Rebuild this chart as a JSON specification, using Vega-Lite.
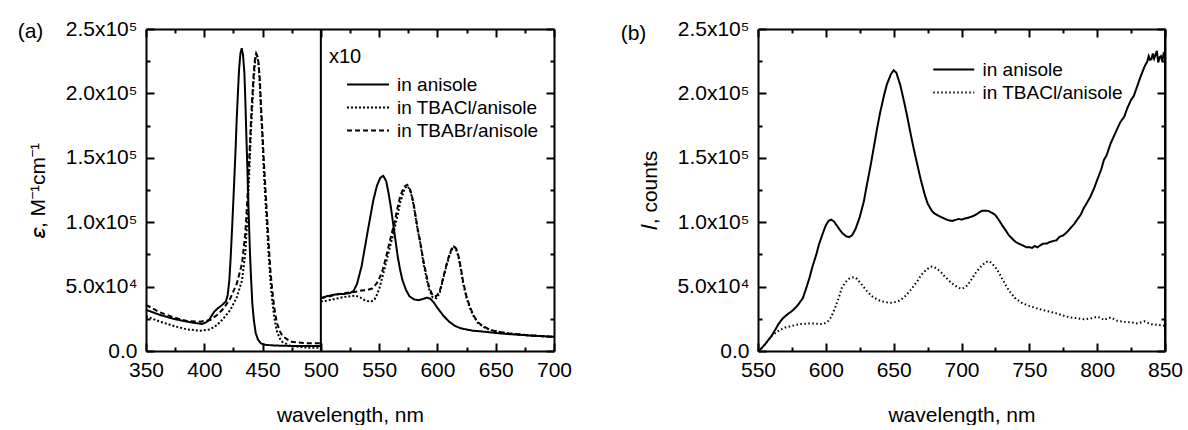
{
  "$schema": "https://vega.github.io/schema/vega-lite/v6.json",
  "background": "white",
  "padding": {"left": 17, "top": 18, "right": 0, "bottom": 0},
  "spacing": 48,
  "config": {
    "view": {"stroke": null},
    "font": "Liberation Sans",
    "axis": {
      "domainColor": "black", "domainWidth": 2, "tickColor": "black", "tickWidth": 2,
      "labelColor": "black", "titleColor": "black", "labelFont": "Liberation Sans", "titleFont": "Liberation Sans",
      "labelFontSize": 21, "titleFontSize": 21, "titleFontWeight": "normal", "grid": false,
      "labelOverlap": false, "labelFlush": false, "zindex": 1
    },
    "legend": {
      "labelFont": "Liberation Sans", "labelFontSize": 19, "labelColor": "black",
      "titleFont": "Liberation Sans", "titleFontSize": 20, "titleFontWeight": "normal", "titleColor": "black"
    }
  },
  "resolve": {
    "scale": {"x": "independent", "y": "independent", "strokeDash": "independent"},
    "legend": {"strokeDash": "independent"}
  },
  "datasets": {
    "abs": [
      {"series":"in anisole","part":"L","wl":350,"eps":32000},{"series":"in anisole","part":"L","wl":362,"eps":28000},{"series":"in anisole","part":"L","wl":374,"eps":24900},{"series":"in anisole","part":"L","wl":385,"eps":22800},{"series":"in anisole","part":"L","wl":394,"eps":21500},{"series":"in anisole","part":"L","wl":398,"eps":21000},{"series":"in anisole","part":"L","wl":401,"eps":22000},{"series":"in anisole","part":"L","wl":404,"eps":24000},{"series":"in anisole","part":"L","wl":408.5,"eps":30500},{"series":"in anisole","part":"L","wl":412,"eps":33500},{"series":"in anisole","part":"L","wl":415,"eps":35500},{"series":"in anisole","part":"L","wl":418.5,"eps":38500},{"series":"in anisole","part":"L","wl":420,"eps":43000},{"series":"in anisole","part":"L","wl":421.5,"eps":55000},{"series":"in anisole","part":"L","wl":422.6,"eps":72000},{"series":"in anisole","part":"L","wl":424,"eps":98000},{"series":"in anisole","part":"L","wl":425.5,"eps":128000},{"series":"in anisole","part":"L","wl":427,"eps":160000},{"series":"in anisole","part":"L","wl":427.8,"eps":180000},{"series":"in anisole","part":"L","wl":429,"eps":203000},{"series":"in anisole","part":"L","wl":429.8,"eps":218000},{"series":"in anisole","part":"L","wl":431,"eps":231000},{"series":"in anisole","part":"L","wl":432.1,"eps":235000},{"series":"in anisole","part":"L","wl":433.2,"eps":230000},{"series":"in anisole","part":"L","wl":434.4,"eps":216000},{"series":"in anisole","part":"L","wl":435.2,"eps":195000},{"series":"in anisole","part":"L","wl":436.1,"eps":167000},{"series":"in anisole","part":"L","wl":437,"eps":141000},{"series":"in anisole","part":"L","wl":437.8,"eps":115000},{"series":"in anisole","part":"L","wl":438.5,"eps":95000},{"series":"in anisole","part":"L","wl":439.2,"eps":76000},{"series":"in anisole","part":"L","wl":440.2,"eps":55000},{"series":"in anisole","part":"L","wl":441.2,"eps":37000},{"series":"in anisole","part":"L","wl":442.5,"eps":24000},{"series":"in anisole","part":"L","wl":444.1,"eps":14000},{"series":"in anisole","part":"L","wl":446,"eps":9000},{"series":"in anisole","part":"L","wl":448.4,"eps":6000},{"series":"in anisole","part":"L","wl":452,"eps":4800},{"series":"in anisole","part":"L","wl":460,"eps":4300},{"series":"in anisole","part":"L","wl":470,"eps":4000},{"series":"in anisole","part":"L","wl":480,"eps":3900},{"series":"in anisole","part":"L","wl":490,"eps":3800},{"series":"in anisole","part":"L","wl":500,"eps":3800},
      {"series":"in anisole","part":"R","wl":500,"eps":41000},{"series":"in anisole","part":"R","wl":505,"eps":42500},{"series":"in anisole","part":"R","wl":510,"eps":43500},{"series":"in anisole","part":"R","wl":515,"eps":44200},{"series":"in anisole","part":"R","wl":520,"eps":44300},{"series":"in anisole","part":"R","wl":525,"eps":45000},{"series":"in anisole","part":"R","wl":528,"eps":46500},{"series":"in anisole","part":"R","wl":531,"eps":52000},{"series":"in anisole","part":"R","wl":535,"eps":66000},{"series":"in anisole","part":"R","wl":540,"eps":92000},{"series":"in anisole","part":"R","wl":545,"eps":117000},{"series":"in anisole","part":"R","wl":548,"eps":128000},{"series":"in anisole","part":"R","wl":551,"eps":134500},{"series":"in anisole","part":"R","wl":553.5,"eps":136000},{"series":"in anisole","part":"R","wl":556,"eps":132000},{"series":"in anisole","part":"R","wl":558,"eps":123000},{"series":"in anisole","part":"R","wl":560,"eps":112000},{"series":"in anisole","part":"R","wl":562,"eps":99000},{"series":"in anisole","part":"R","wl":564,"eps":86000},{"series":"in anisole","part":"R","wl":566,"eps":73000},{"series":"in anisole","part":"R","wl":568,"eps":63000},{"series":"in anisole","part":"R","wl":570,"eps":55000},{"series":"in anisole","part":"R","wl":573,"eps":47500},{"series":"in anisole","part":"R","wl":576,"eps":42500},{"series":"in anisole","part":"R","wl":580,"eps":40000},{"series":"in anisole","part":"R","wl":584,"eps":39500},{"series":"in anisole","part":"R","wl":588,"eps":40500},{"series":"in anisole","part":"R","wl":591,"eps":41500},{"series":"in anisole","part":"R","wl":594,"eps":40500},{"series":"in anisole","part":"R","wl":597,"eps":37500},{"series":"in anisole","part":"R","wl":600,"eps":33500},{"series":"in anisole","part":"R","wl":605,"eps":27500},{"series":"in anisole","part":"R","wl":610,"eps":22800},{"series":"in anisole","part":"R","wl":615,"eps":19500},{"series":"in anisole","part":"R","wl":620,"eps":17600},{"series":"in anisole","part":"R","wl":630,"eps":15800},{"series":"in anisole","part":"R","wl":640,"eps":15000},{"series":"in anisole","part":"R","wl":650,"eps":14000},{"series":"in anisole","part":"R","wl":660,"eps":13200},{"series":"in anisole","part":"R","wl":680,"eps":12000},{"series":"in anisole","part":"R","wl":700,"eps":11000},
      {"series":"in TBACl/anisole","part":"L","wl":350,"eps":27000},{"series":"in TBACl/anisole","part":"L","wl":362,"eps":22800},{"series":"in TBACl/anisole","part":"L","wl":374,"eps":19400},{"series":"in TBACl/anisole","part":"L","wl":385,"eps":16800},{"series":"in TBACl/anisole","part":"L","wl":396.6,"eps":15800},{"series":"in TBACl/anisole","part":"L","wl":405,"eps":16800},{"series":"in TBACl/anisole","part":"L","wl":411,"eps":20200},{"series":"in TBACl/anisole","part":"L","wl":416.6,"eps":25400},{"series":"in TBACl/anisole","part":"L","wl":422.4,"eps":31900},{"series":"in TBACl/anisole","part":"L","wl":428,"eps":42000},{"series":"in TBACl/anisole","part":"L","wl":432.4,"eps":55000},{"series":"in TBACl/anisole","part":"L","wl":435.2,"eps":76000},{"series":"in TBACl/anisole","part":"L","wl":436.8,"eps":100000},{"series":"in TBACl/anisole","part":"L","wl":438.1,"eps":128000},{"series":"in TBACl/anisole","part":"L","wl":439.2,"eps":152000},{"series":"in TBACl/anisole","part":"L","wl":440.1,"eps":172000},{"series":"in TBACl/anisole","part":"L","wl":441.3,"eps":192000},{"series":"in TBACl/anisole","part":"L","wl":442.4,"eps":210000},{"series":"in TBACl/anisole","part":"L","wl":443.5,"eps":224000},{"series":"in TBACl/anisole","part":"L","wl":444.7,"eps":231000},{"series":"in TBACl/anisole","part":"L","wl":445.7,"eps":228000},{"series":"in TBACl/anisole","part":"L","wl":446.7,"eps":221000},{"series":"in TBACl/anisole","part":"L","wl":447.7,"eps":205000},{"series":"in TBACl/anisole","part":"L","wl":448.7,"eps":185000},{"series":"in TBACl/anisole","part":"L","wl":450,"eps":162000},{"series":"in TBACl/anisole","part":"L","wl":451,"eps":141000},{"series":"in TBACl/anisole","part":"L","wl":452.4,"eps":118000},{"series":"in TBACl/anisole","part":"L","wl":453.8,"eps":97000},{"series":"in TBACl/anisole","part":"L","wl":455.2,"eps":75000},{"series":"in TBACl/anisole","part":"L","wl":456.7,"eps":55000},{"series":"in TBACl/anisole","part":"L","wl":458.2,"eps":40000},{"series":"in TBACl/anisole","part":"L","wl":459.6,"eps":29000},{"series":"in TBACl/anisole","part":"L","wl":461,"eps":21000},{"series":"in TBACl/anisole","part":"L","wl":462.4,"eps":15000},{"series":"in TBACl/anisole","part":"L","wl":465,"eps":9500},{"series":"in TBACl/anisole","part":"L","wl":467,"eps":7000},{"series":"in TBACl/anisole","part":"L","wl":474,"eps":3900},{"series":"in TBACl/anisole","part":"L","wl":488,"eps":2600},{"series":"in TBACl/anisole","part":"L","wl":500,"eps":2600},
      {"series":"in TBACl/anisole","part":"R","wl":500,"eps":38400},{"series":"in TBACl/anisole","part":"R","wl":505,"eps":39000},{"series":"in TBACl/anisole","part":"R","wl":510,"eps":40000},{"series":"in TBACl/anisole","part":"R","wl":515,"eps":41000},{"series":"in TBACl/anisole","part":"R","wl":520,"eps":42000},{"series":"in TBACl/anisole","part":"R","wl":525,"eps":42500},{"series":"in TBACl/anisole","part":"R","wl":530,"eps":43000},{"series":"in TBACl/anisole","part":"R","wl":534,"eps":41500},{"series":"in TBACl/anisole","part":"R","wl":537,"eps":39700},{"series":"in TBACl/anisole","part":"R","wl":540,"eps":38800},{"series":"in TBACl/anisole","part":"R","wl":543,"eps":38400},{"series":"in TBACl/anisole","part":"R","wl":546,"eps":40000},{"series":"in TBACl/anisole","part":"R","wl":548,"eps":43500},{"series":"in TBACl/anisole","part":"R","wl":550,"eps":48000},{"series":"in TBACl/anisole","part":"R","wl":553,"eps":58000},{"series":"in TBACl/anisole","part":"R","wl":556,"eps":69000},{"series":"in TBACl/anisole","part":"R","wl":558,"eps":76000},{"series":"in TBACl/anisole","part":"R","wl":561,"eps":87000},{"series":"in TBACl/anisole","part":"R","wl":563,"eps":94000},{"series":"in TBACl/anisole","part":"R","wl":566,"eps":106000},{"series":"in TBACl/anisole","part":"R","wl":568,"eps":115000},{"series":"in TBACl/anisole","part":"R","wl":570,"eps":121000},{"series":"in TBACl/anisole","part":"R","wl":572,"eps":126500},{"series":"in TBACl/anisole","part":"R","wl":574,"eps":128000},{"series":"in TBACl/anisole","part":"R","wl":576,"eps":126000},{"series":"in TBACl/anisole","part":"R","wl":578,"eps":120000},{"series":"in TBACl/anisole","part":"R","wl":580,"eps":111000},{"series":"in TBACl/anisole","part":"R","wl":583,"eps":94000},{"series":"in TBACl/anisole","part":"R","wl":585,"eps":85000},{"series":"in TBACl/anisole","part":"R","wl":588,"eps":68000},{"series":"in TBACl/anisole","part":"R","wl":591,"eps":55000},{"series":"in TBACl/anisole","part":"R","wl":593,"eps":47400},{"series":"in TBACl/anisole","part":"R","wl":596,"eps":41500},{"series":"in TBACl/anisole","part":"R","wl":599,"eps":41000},{"series":"in TBACl/anisole","part":"R","wl":602,"eps":45000},{"series":"in TBACl/anisole","part":"R","wl":605,"eps":56500},{"series":"in TBACl/anisole","part":"R","wl":608,"eps":67000},{"series":"in TBACl/anisole","part":"R","wl":610,"eps":73000},{"series":"in TBACl/anisole","part":"R","wl":612,"eps":78000},{"series":"in TBACl/anisole","part":"R","wl":614,"eps":81000},{"series":"in TBACl/anisole","part":"R","wl":616,"eps":79000},{"series":"in TBACl/anisole","part":"R","wl":618,"eps":73000},{"series":"in TBACl/anisole","part":"R","wl":620,"eps":64000},{"series":"in TBACl/anisole","part":"R","wl":622,"eps":52600},{"series":"in TBACl/anisole","part":"R","wl":625,"eps":41000},{"series":"in TBACl/anisole","part":"R","wl":628,"eps":33000},{"series":"in TBACl/anisole","part":"R","wl":631,"eps":27000},{"series":"in TBACl/anisole","part":"R","wl":635,"eps":21500},{"series":"in TBACl/anisole","part":"R","wl":640,"eps":18500},{"series":"in TBACl/anisole","part":"R","wl":645,"eps":16300},{"series":"in TBACl/anisole","part":"R","wl":650,"eps":15300},{"series":"in TBACl/anisole","part":"R","wl":660,"eps":13700},{"series":"in TBACl/anisole","part":"R","wl":680,"eps":12000},{"series":"in TBACl/anisole","part":"R","wl":700,"eps":11000},
      {"series":"in TBABr/anisole","part":"L","wl":350,"eps":35800},{"series":"in TBABr/anisole","part":"L","wl":362,"eps":30000},{"series":"in TBABr/anisole","part":"L","wl":374,"eps":26000},{"series":"in TBABr/anisole","part":"L","wl":385,"eps":23300},{"series":"in TBABr/anisole","part":"L","wl":396.6,"eps":22800},{"series":"in TBABr/anisole","part":"L","wl":405,"eps":24000},{"series":"in TBABr/anisole","part":"L","wl":411,"eps":28000},{"series":"in TBABr/anisole","part":"L","wl":416.6,"eps":33000},{"series":"in TBABr/anisole","part":"L","wl":422.4,"eps":41000},{"series":"in TBABr/anisole","part":"L","wl":428,"eps":52600},{"series":"in TBABr/anisole","part":"L","wl":432.4,"eps":68000},{"series":"in TBABr/anisole","part":"L","wl":435.2,"eps":91700},{"series":"in TBABr/anisole","part":"L","wl":436.8,"eps":115000},{"series":"in TBABr/anisole","part":"L","wl":438.1,"eps":141000},{"series":"in TBABr/anisole","part":"L","wl":439.2,"eps":162000},{"series":"in TBABr/anisole","part":"L","wl":440.1,"eps":180000},{"series":"in TBABr/anisole","part":"L","wl":441.3,"eps":200000},{"series":"in TBABr/anisole","part":"L","wl":442.4,"eps":216000},{"series":"in TBABr/anisole","part":"L","wl":443.5,"eps":227000},{"series":"in TBABr/anisole","part":"L","wl":444.5,"eps":231000},{"series":"in TBABr/anisole","part":"L","wl":445.5,"eps":229000},{"series":"in TBABr/anisole","part":"L","wl":446.5,"eps":224000},{"series":"in TBABr/anisole","part":"L","wl":447.7,"eps":210000},{"series":"in TBABr/anisole","part":"L","wl":448.7,"eps":190000},{"series":"in TBABr/anisole","part":"L","wl":450,"eps":168000},{"series":"in TBABr/anisole","part":"L","wl":451,"eps":149000},{"series":"in TBABr/anisole","part":"L","wl":452.4,"eps":127000},{"series":"in TBABr/anisole","part":"L","wl":453.8,"eps":105000},{"series":"in TBABr/anisole","part":"L","wl":455.2,"eps":84000},{"series":"in TBABr/anisole","part":"L","wl":456.7,"eps":63000},{"series":"in TBABr/anisole","part":"L","wl":458.2,"eps":48000},{"series":"in TBABr/anisole","part":"L","wl":459.6,"eps":37000},{"series":"in TBABr/anisole","part":"L","wl":461,"eps":28000},{"series":"in TBABr/anisole","part":"L","wl":462.4,"eps":21500},{"series":"in TBABr/anisole","part":"L","wl":465,"eps":15000},{"series":"in TBABr/anisole","part":"L","wl":467,"eps":11700},{"series":"in TBABr/anisole","part":"L","wl":474,"eps":7300},{"series":"in TBABr/anisole","part":"L","wl":488,"eps":6000},{"series":"in TBABr/anisole","part":"L","wl":500,"eps":6000},
      {"series":"in TBABr/anisole","part":"R","wl":500,"eps":41000},{"series":"in TBABr/anisole","part":"R","wl":505,"eps":42000},{"series":"in TBABr/anisole","part":"R","wl":510,"eps":43000},{"series":"in TBABr/anisole","part":"R","wl":515,"eps":44000},{"series":"in TBABr/anisole","part":"R","wl":520,"eps":44800},{"series":"in TBABr/anisole","part":"R","wl":525,"eps":45500},{"series":"in TBABr/anisole","part":"R","wl":530,"eps":46000},{"series":"in TBABr/anisole","part":"R","wl":535,"eps":47000},{"series":"in TBABr/anisole","part":"R","wl":540,"eps":47400},{"series":"in TBABr/anisole","part":"R","wl":544,"eps":48500},{"series":"in TBABr/anisole","part":"R","wl":548,"eps":52600},{"series":"in TBABr/anisole","part":"R","wl":551,"eps":58000},{"series":"in TBABr/anisole","part":"R","wl":553,"eps":63000},{"series":"in TBABr/anisole","part":"R","wl":556,"eps":73000},{"series":"in TBABr/anisole","part":"R","wl":558,"eps":81000},{"series":"in TBABr/anisole","part":"R","wl":561,"eps":92000},{"series":"in TBABr/anisole","part":"R","wl":563,"eps":99000},{"series":"in TBABr/anisole","part":"R","wl":566,"eps":112000},{"series":"in TBABr/anisole","part":"R","wl":568,"eps":120000},{"series":"in TBABr/anisole","part":"R","wl":570,"eps":124500},{"series":"in TBABr/anisole","part":"R","wl":572,"eps":128000},{"series":"in TBABr/anisole","part":"R","wl":574,"eps":129000},{"series":"in TBABr/anisole","part":"R","wl":576,"eps":127000},{"series":"in TBABr/anisole","part":"R","wl":578,"eps":121000},{"series":"in TBABr/anisole","part":"R","wl":580,"eps":112000},{"series":"in TBABr/anisole","part":"R","wl":583,"eps":95000},{"series":"in TBABr/anisole","part":"R","wl":585,"eps":86000},{"series":"in TBABr/anisole","part":"R","wl":588,"eps":70000},{"series":"in TBABr/anisole","part":"R","wl":591,"eps":57000},{"series":"in TBABr/anisole","part":"R","wl":593,"eps":49000},{"series":"in TBABr/anisole","part":"R","wl":596,"eps":43000},{"series":"in TBABr/anisole","part":"R","wl":599,"eps":42500},{"series":"in TBABr/anisole","part":"R","wl":602,"eps":46500},{"series":"in TBABr/anisole","part":"R","wl":605,"eps":57000},{"series":"in TBABr/anisole","part":"R","wl":608,"eps":68000},{"series":"in TBABr/anisole","part":"R","wl":610,"eps":74000},{"series":"in TBABr/anisole","part":"R","wl":612,"eps":79000},{"series":"in TBABr/anisole","part":"R","wl":614,"eps":81500},{"series":"in TBABr/anisole","part":"R","wl":616,"eps":79500},{"series":"in TBABr/anisole","part":"R","wl":618,"eps":74000},{"series":"in TBABr/anisole","part":"R","wl":620,"eps":65000},{"series":"in TBABr/anisole","part":"R","wl":622,"eps":54000},{"series":"in TBABr/anisole","part":"R","wl":625,"eps":42000},{"series":"in TBABr/anisole","part":"R","wl":628,"eps":34000},{"series":"in TBABr/anisole","part":"R","wl":631,"eps":27500},{"series":"in TBABr/anisole","part":"R","wl":635,"eps":22000},{"series":"in TBABr/anisole","part":"R","wl":640,"eps":18800},{"series":"in TBABr/anisole","part":"R","wl":645,"eps":16500},{"series":"in TBABr/anisole","part":"R","wl":650,"eps":15400},{"series":"in TBABr/anisole","part":"R","wl":660,"eps":13700},{"series":"in TBABr/anisole","part":"R","wl":680,"eps":12000},{"series":"in TBABr/anisole","part":"R","wl":700,"eps":11000}
    ],
    "em": [
      {"series":"in anisole","wl":550,"counts":0},{"series":"in anisole","wl":552,"counts":1500},{"series":"in anisole","wl":555,"counts":5000},{"series":"in anisole","wl":558,"counts":9000},{"series":"in anisole","wl":560,"counts":11700},{"series":"in anisole","wl":563,"counts":17000},{"series":"in anisole","wl":565,"counts":20800},{"series":"in anisole","wl":568,"counts":25000},{"series":"in anisole","wl":570,"counts":27000},{"series":"in anisole","wl":573,"counts":29500},{"series":"in anisole","wl":575,"counts":31000},{"series":"in anisole","wl":578,"counts":34000},{"series":"in anisole","wl":580,"counts":36500},{"series":"in anisole","wl":583,"counts":41000},{"series":"in anisole","wl":585,"counts":47000},{"series":"in anisole","wl":588,"counts":57000},{"series":"in anisole","wl":590,"counts":65000},{"series":"in anisole","wl":593,"counts":75000},{"series":"in anisole","wl":595,"counts":83000},{"series":"in anisole","wl":598,"counts":92000},{"series":"in anisole","wl":600,"counts":97600},{"series":"in anisole","wl":602,"counts":101000},{"series":"in anisole","wl":604,"counts":102000},{"series":"in anisole","wl":606,"counts":100500},{"series":"in anisole","wl":608,"counts":97600},{"series":"in anisole","wl":610,"counts":94500},{"series":"in anisole","wl":612,"counts":91700},{"series":"in anisole","wl":615,"counts":89000},{"series":"in anisole","wl":617,"counts":88500},{"series":"in anisole","wl":619,"counts":89500},{"series":"in anisole","wl":620,"counts":91000},{"series":"in anisole","wl":622,"counts":95000},{"series":"in anisole","wl":625,"counts":104000},{"series":"in anisole","wl":628,"counts":116000},{"series":"in anisole","wl":630,"counts":127600},{"series":"in anisole","wl":633,"counts":144000},{"series":"in anisole","wl":635,"counts":156000},{"series":"in anisole","wl":638,"counts":174000},{"series":"in anisole","wl":640,"counts":185000},{"series":"in anisole","wl":643,"counts":199000},{"series":"in anisole","wl":645,"counts":207000},{"series":"in anisole","wl":648,"counts":215000},{"series":"in anisole","wl":650,"counts":218000},{"series":"in anisole","wl":652,"counts":216000},{"series":"in anisole","wl":655,"counts":206000},{"series":"in anisole","wl":658,"counts":192000},{"series":"in anisole","wl":660,"counts":182000},{"series":"in anisole","wl":663,"counts":166000},{"series":"in anisole","wl":665,"counts":156000},{"series":"in anisole","wl":668,"counts":142000},{"series":"in anisole","wl":670,"counts":133000},{"series":"in anisole","wl":673,"counts":121000},{"series":"in anisole","wl":675,"counts":114600},{"series":"in anisole","wl":678,"counts":109000},{"series":"in anisole","wl":680,"counts":106800},{"series":"in anisole","wl":683,"counts":105000},{"series":"in anisole","wl":685,"counts":104000},{"series":"in anisole","wl":688,"counts":102500},{"series":"in anisole","wl":690,"counts":101600},{"series":"in anisole","wl":693,"counts":101000},{"series":"in anisole","wl":695,"counts":101600},{"series":"in anisole","wl":698,"counts":102500},{"series":"in anisole","wl":700,"counts":102000},{"series":"in anisole","wl":703,"counts":103000},{"series":"in anisole","wl":705,"counts":103500},{"series":"in anisole","wl":708,"counts":104500},{"series":"in anisole","wl":710,"counts":105500},{"series":"in anisole","wl":713,"counts":107500},{"series":"in anisole","wl":715,"counts":108800},{"series":"in anisole","wl":718,"counts":109000},{"series":"in anisole","wl":720,"counts":108600},{"series":"in anisole","wl":723,"counts":107000},{"series":"in anisole","wl":725,"counts":105500},{"series":"in anisole","wl":728,"counts":101000},{"series":"in anisole","wl":730,"counts":97600},{"series":"in anisole","wl":733,"counts":93000},{"series":"in anisole","wl":735,"counts":89800},{"series":"in anisole","wl":738,"counts":86500},{"series":"in anisole","wl":740,"counts":84600},{"series":"in anisole","wl":743,"counts":83000},{"series":"in anisole","wl":745,"counts":82000},{"series":"in anisole","wl":748,"counts":80500},{"series":"in anisole","wl":750,"counts":80700},{"series":"in anisole","wl":752,"counts":80000},{"series":"in anisole","wl":754,"counts":81500},{"series":"in anisole","wl":756,"counts":80500},{"series":"in anisole","wl":758,"counts":82000},{"series":"in anisole","wl":760,"counts":83300},{"series":"in anisole","wl":763,"counts":83500},{"series":"in anisole","wl":765,"counts":84600},{"series":"in anisole","wl":768,"counts":85500},{"series":"in anisole","wl":770,"counts":86000},{"series":"in anisole","wl":772,"counts":88500},{"series":"in anisole","wl":775,"counts":89800},{"series":"in anisole","wl":778,"counts":92500},{"series":"in anisole","wl":780,"counts":95000},{"series":"in anisole","wl":783,"counts":98500},{"series":"in anisole","wl":785,"counts":101600},{"series":"in anisole","wl":788,"counts":106000},{"series":"in anisole","wl":790,"counts":110700},{"series":"in anisole","wl":793,"counts":116000},{"series":"in anisole","wl":795,"counts":119800},{"series":"in anisole","wl":798,"counts":127000},{"series":"in anisole","wl":800,"counts":132800},{"series":"in anisole","wl":803,"counts":141000},{"series":"in anisole","wl":805,"counts":148400},{"series":"in anisole","wl":807,"counts":152000},{"series":"in anisole","wl":810,"counts":161400},{"series":"in anisole","wl":812,"counts":166000},{"series":"in anisole","wl":815,"counts":173000},{"series":"in anisole","wl":817,"counts":177500},{"series":"in anisole","wl":820,"counts":182000},{"series":"in anisole","wl":822,"counts":188000},{"series":"in anisole","wl":825,"counts":195000},{"series":"in anisole","wl":827,"counts":198000},{"series":"in anisole","wl":830,"counts":207000},{"series":"in anisole","wl":832,"counts":213000},{"series":"in anisole","wl":835,"counts":221000},{"series":"in anisole","wl":837,"counts":225000},{"series":"in anisole","wl":838,"counts":229000},{"series":"in anisole","wl":839,"counts":226000},{"series":"in anisole","wl":840,"counts":226500},{"series":"in anisole","wl":841,"counts":231000},{"series":"in anisole","wl":842,"counts":227000},{"series":"in anisole","wl":843,"counts":230000},{"series":"in anisole","wl":844,"counts":233000},{"series":"in anisole","wl":845,"counts":224000},{"series":"in anisole","wl":846,"counts":228000},{"series":"in anisole","wl":847,"counts":229000},{"series":"in anisole","wl":848,"counts":225000},{"series":"in anisole","wl":849,"counts":231000},{"series":"in anisole","wl":850,"counts":230000},
      {"series":"in TBACl/anisole","wl":550,"counts":0},{"series":"in TBACl/anisole","wl":552,"counts":1500},{"series":"in TBACl/anisole","wl":555,"counts":5000},{"series":"in TBACl/anisole","wl":558,"counts":9000},{"series":"in TBACl/anisole","wl":560,"counts":11700},{"series":"in TBACl/anisole","wl":563,"counts":14000},{"series":"in TBACl/anisole","wl":565,"counts":15600},{"series":"in TBACl/anisole","wl":568,"counts":17200},{"series":"in TBACl/anisole","wl":570,"counts":18200},{"series":"in TBACl/anisole","wl":575,"counts":19500},{"series":"in TBACl/anisole","wl":580,"counts":20800},{"series":"in TBACl/anisole","wl":585,"counts":21200},{"series":"in TBACl/anisole","wl":590,"counts":21400},{"series":"in TBACl/anisole","wl":595,"counts":21000},{"series":"in TBACl/anisole","wl":598,"counts":20800},{"series":"in TBACl/anisole","wl":600,"counts":22000},{"series":"in TBACl/anisole","wl":602,"counts":23500},{"series":"in TBACl/anisole","wl":604,"counts":26500},{"series":"in TBACl/anisole","wl":607,"counts":34000},{"series":"in TBACl/anisole","wl":610,"counts":43000},{"series":"in TBACl/anisole","wl":612,"counts":49500},{"series":"in TBACl/anisole","wl":615,"counts":54000},{"series":"in TBACl/anisole","wl":617,"counts":56000},{"series":"in TBACl/anisole","wl":619,"counts":57000},{"series":"in TBACl/anisole","wl":621,"counts":57300},{"series":"in TBACl/anisole","wl":623,"counts":56000},{"series":"in TBACl/anisole","wl":625,"counts":53400},{"series":"in TBACl/anisole","wl":628,"counts":49500},{"series":"in TBACl/anisole","wl":630,"counts":46900},{"series":"in TBACl/anisole","wl":633,"counts":43500},{"series":"in TBACl/anisole","wl":635,"counts":41700},{"series":"in TBACl/anisole","wl":638,"counts":40000},{"series":"in TBACl/anisole","wl":640,"counts":39000},{"series":"in TBACl/anisole","wl":643,"counts":38200},{"series":"in TBACl/anisole","wl":645,"counts":37800},{"series":"in TBACl/anisole","wl":648,"counts":37500},{"series":"in TBACl/anisole","wl":650,"counts":37800},{"series":"in TBACl/anisole","wl":653,"counts":38500},{"series":"in TBACl/anisole","wl":655,"counts":39600},{"series":"in TBACl/anisole","wl":658,"counts":42000},{"series":"in TBACl/anisole","wl":660,"counts":44300},{"series":"in TBACl/anisole","wl":663,"counts":48000},{"series":"in TBACl/anisole","wl":665,"counts":50800},{"series":"in TBACl/anisole","wl":668,"counts":55000},{"series":"in TBACl/anisole","wl":670,"counts":58600},{"series":"in TBACl/anisole","wl":673,"counts":62000},{"series":"in TBACl/anisole","wl":675,"counts":63800},{"series":"in TBACl/anisole","wl":678,"counts":65600},{"series":"in TBACl/anisole","wl":680,"counts":65000},{"series":"in TBACl/anisole","wl":682,"counts":63800},{"series":"in TBACl/anisole","wl":685,"counts":61000},{"series":"in TBACl/anisole","wl":687,"counts":58600},{"series":"in TBACl/anisole","wl":690,"counts":55500},{"series":"in TBACl/anisole","wl":692,"counts":53400},{"series":"in TBACl/anisole","wl":695,"counts":51000},{"series":"in TBACl/anisole","wl":697,"counts":49500},{"series":"in TBACl/anisole","wl":700,"counts":48200},{"series":"in TBACl/anisole","wl":703,"counts":49500},{"series":"in TBACl/anisole","wl":705,"counts":52000},{"series":"in TBACl/anisole","wl":708,"counts":56500},{"series":"in TBACl/anisole","wl":710,"counts":60000},{"series":"in TBACl/anisole","wl":713,"counts":64000},{"series":"in TBACl/anisole","wl":715,"counts":66400},{"series":"in TBACl/anisole","wl":718,"counts":69000},{"series":"in TBACl/anisole","wl":720,"counts":69800},{"series":"in TBACl/anisole","wl":722,"counts":68500},{"series":"in TBACl/anisole","wl":725,"counts":65000},{"series":"in TBACl/anisole","wl":728,"counts":60000},{"series":"in TBACl/anisole","wl":730,"counts":56000},{"series":"in TBACl/anisole","wl":733,"counts":50500},{"series":"in TBACl/anisole","wl":735,"counts":46900},{"series":"in TBACl/anisole","wl":738,"counts":43000},{"series":"in TBACl/anisole","wl":740,"counts":40400},{"series":"in TBACl/anisole","wl":743,"counts":38500},{"series":"in TBACl/anisole","wl":745,"counts":37000},{"series":"in TBACl/anisole","wl":748,"counts":35800},{"series":"in TBACl/anisole","wl":750,"counts":35000},{"series":"in TBACl/anisole","wl":755,"counts":33300},{"series":"in TBACl/anisole","wl":760,"counts":31800},{"series":"in TBACl/anisole","wl":765,"counts":30500},{"series":"in TBACl/anisole","wl":770,"counts":29200},{"series":"in TBACl/anisole","wl":775,"counts":27500},{"series":"in TBACl/anisole","wl":780,"counts":26000},{"series":"in TBACl/anisole","wl":785,"counts":25500},{"series":"in TBACl/anisole","wl":790,"counts":24700},{"series":"in TBACl/anisole","wl":795,"counts":25200},{"series":"in TBACl/anisole","wl":800,"counts":26600},{"series":"in TBACl/anisole","wl":803,"counts":25500},{"series":"in TBACl/anisole","wl":805,"counts":24000},{"series":"in TBACl/anisole","wl":808,"counts":25500},{"series":"in TBACl/anisole","wl":810,"counts":26000},{"series":"in TBACl/anisole","wl":813,"counts":24500},{"series":"in TBACl/anisole","wl":815,"counts":23400},{"series":"in TBACl/anisole","wl":820,"counts":22700},{"series":"in TBACl/anisole","wl":825,"counts":22200},{"series":"in TBACl/anisole","wl":830,"counts":21400},{"series":"in TBACl/anisole","wl":833,"counts":22500},{"series":"in TBACl/anisole","wl":835,"counts":23000},{"series":"in TBACl/anisole","wl":838,"counts":21500},{"series":"in TBACl/anisole","wl":840,"counts":20800},{"series":"in TBACl/anisole","wl":845,"counts":20300},{"series":"in TBACl/anisole","wl":850,"counts":19500}
    ]
  },
  "hconcat": [
    {
      "width": 408,
      "height": 322,
      "layer": [
        {
          "data": {"name": "abs"},
          "mark": {"type": "line", "strokeWidth": 2, "color": "black"},
          "encoding": {
            "x": {
              "field": "wl", "type": "quantitative",
              "scale": {"domain": [350, 700], "nice": false, "zero": false},
              "axis": {
                "orient": "bottom", "title": "wavelength, nm",
                "values": [350,375,400,425,450,475,500,525,550,575,600,625,650,675,700],
                "labelExpr": "datum.value % 50 === 0 ? datum.label : ''",
                "tickSize": {"condition": {"test": "datum.value % 50 === 0", "value": -8}, "value": -4},
                "labelPadding": 16, "titlePadding": 20
              }
            },
            "y": {
              "field": "eps", "type": "quantitative",
              "scale": {"domain": [0, 250000], "nice": false},
              "axis": {
                "orient": "left", "title": "𝜀, M⁻¹cm⁻¹",
                "values": [0,25000,50000,75000,100000,125000,150000,175000,200000,225000,250000],
                "labelExpr": "datum.value % 50000 !== 0 ? '' : datum.value === 0 ? '0.0' : datum.value < 100000 ? format(datum.value / 10000, '.1f') + 'x10⁴' : format(datum.value / 100000, '.1f') + 'x10⁵'",
                "tickSize": {"condition": {"test": "datum.value % 50000 === 0", "value": -8}, "value": -4},
                "labelPadding": 17, "titlePadding": 16
              }
            },
            "detail": {"field": "part", "type": "nominal"},
            "strokeDash": {
              "field": "series", "type": "nominal",
              "scale": {"domain": ["in anisole", "in TBACl/anisole", "in TBABr/anisole"], "range": [[1, 0], [2, 2], [5, 3]]},
              "legend": {
                "orient": "none", "legendX": 183, "legendY": 18, "title": "x10",
                "titlePadding": 6, "symbolType": "M-1,0H3", "symbolSize": 441, "symbolStrokeWidth": 2,
                "symbolStrokeColor": "black", "symbolFillColor": "transparent", "symbolOffset": 17, "rowPadding": 1, "labelOffset": 28
              }
            }
          }
        },
        {
          "data": {"values": [{"wl": 500, "lo": 0, "hi": 250000}]},
          "mark": {"type": "rule", "strokeWidth": 2, "color": "black"},
          "encoding": {
            "x": {
              "field": "wl", "type": "quantitative",
              "axis": {
                "orient": "top", "title": "(a)", "titleAngle": 0, "titleX": -116, "titleY": 2,
                "titleBaseline": "middle", "titleAlign": "center", "labels": false,
                "values": [350,375,400,425,450,475,500,525,550,575,600,625,650,675,700],
                "tickSize": {"condition": {"test": "datum.value % 50 === 0", "value": -8}, "value": -4}
              }
            },
            "y": {
              "field": "lo", "type": "quantitative",
              "axis": {
                "orient": "right", "title": null, "labels": false,
                "values": [0,25000,50000,75000,100000,125000,150000,175000,200000,225000,250000],
                "tickSize": {"condition": {"test": "datum.value % 50000 === 0", "value": -8}, "value": -4}
              }
            },
            "y2": {"field": "hi"}
          }
        }
      ]
    },
    {
      "width": 407,
      "height": 322,
      "layer": [
        {
          "data": {"name": "em"},
          "mark": {"type": "line", "strokeWidth": 2, "color": "black"},
          "encoding": {
            "x": {
              "field": "wl", "type": "quantitative",
              "scale": {"domain": [550, 850], "nice": false, "zero": false},
              "axis": {
                "orient": "bottom", "title": "wavelength, nm",
                "values": [550,575,600,625,650,675,700,725,750,775,800,825,850],
                "labelExpr": "datum.value % 50 === 0 ? datum.label : ''",
                "tickSize": {"condition": {"test": "datum.value % 50 === 0", "value": -8}, "value": -4},
                "labelPadding": 16, "titlePadding": 20
              }
            },
            "y": {
              "field": "counts", "type": "quantitative",
              "scale": {"domain": [0, 250000], "nice": false},
              "axis": {
                "orient": "left", "title": "𝐼, counts",
                "values": [0,25000,50000,75000,100000,125000,150000,175000,200000,225000,250000],
                "labelExpr": "datum.value % 50000 !== 0 ? '' : datum.value === 0 ? '0.0' : datum.value < 100000 ? format(datum.value / 10000, '.1f') + 'x10⁴' : format(datum.value / 100000, '.1f') + 'x10⁵'",
                "tickSize": {"condition": {"test": "datum.value % 50000 === 0", "value": -8}, "value": -4},
                "labelPadding": 17, "titlePadding": 16
              }
            },
            "strokeDash": {
              "field": "series", "type": "nominal",
              "scale": {"domain": ["in anisole", "in TBACl/anisole"], "range": [[1, 0], [1.5, 2.5]]},
              "legend": {
                "orient": "none", "legendX": 174, "legendY": 29, "title": null,
                "symbolType": "M-1,0H3", "symbolSize": 420, "symbolStrokeWidth": 2,
                "symbolStrokeColor": "black", "symbolFillColor": "transparent", "rowPadding": 1, "labelOffset": 27.5
              }
            }
          }
        },
        {
          "data": {"values": [{"wl": 850, "lo": 0, "hi": 250000}]},
          "mark": {"type": "rule", "strokeWidth": 2, "color": "black"},
          "encoding": {
            "x": {
              "field": "wl", "type": "quantitative",
              "axis": {
                "orient": "top", "title": "(b)", "titleAngle": 0, "titleX": -125, "titleY": 4,
                "titleBaseline": "middle", "titleAlign": "center", "labels": false,
                "values": [550,575,600,625,650,675,700,725,750,775,800,825,850],
                "tickSize": {"condition": {"test": "datum.value % 50 === 0", "value": -8}, "value": -4}
              }
            },
            "y": {
              "field": "lo", "type": "quantitative",
              "axis": {
                "orient": "right", "title": null, "labels": false,
                "values": [0,25000,50000,75000,100000,125000,150000,175000,200000,225000,250000],
                "tickSize": {"condition": {"test": "datum.value % 50000 === 0", "value": -8}, "value": -4}
              }
            },
            "y2": {"field": "hi"}
          }
        }
      ]
    }
  ]
}
